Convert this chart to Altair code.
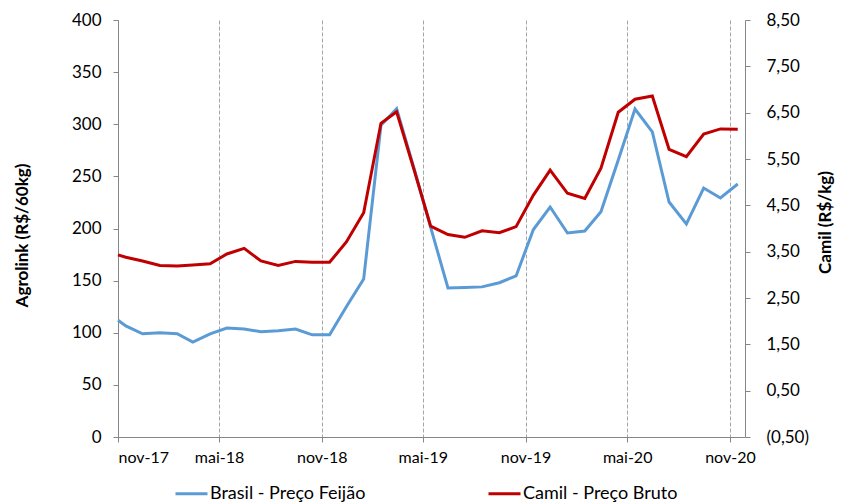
import altair as alt
import pandas as pd

dates = ["2017-11-01"] + [f"{y}-{m:02d}-15" for y, m in
         [(2017, 11), (2017, 12)] + [(2018, m) for m in range(1, 13)] +
         [(2019, m) for m in range(1, 13)] + [(2020, m) for m in range(1, 12)]]

brasil = [112, 106.5, 99, 100, 99, 91, 99, 104.5, 103.6, 101, 102, 103.6, 98, 98,
          125, 151.5, 299, 315, 258, 201, 143, 143.5, 144, 148, 154.5, 199, 220.6,
          195.7, 197.6, 216, 265.7, 314.6, 292.6, 225.4, 204.3, 238.8, 229.3, 242.7]

camil = [3.43, 3.38, 3.30, 3.20, 3.19, 3.21, 3.24, 3.45, 3.57, 3.30, 3.20, 3.29, 3.27,
         3.27, 3.71, 4.34, 6.27, 6.52, 5.28, 4.05, 3.87, 3.81, 3.95, 3.91, 4.04, 4.72,
         5.26, 4.76, 4.65, 5.30, 6.51, 6.79, 6.86, 5.71, 5.55, 6.04, 6.15, 6.14]

series_names = ["Brasil - Preço Feijão", "Camil - Preço Bruto"]
series_colors = ["#5B9BD5", "#C00000"]

left_ticks = [0, 50, 100, 150, 200, 250, 300, 350, 400]
right_ticks = [-0.5, 0.5, 1.5, 2.5, 3.5, 4.5, 5.5, 6.5, 7.5, 8.5]
x_ticks = [(2017, 11), (2018, 5), (2018, 11), (2019, 5), (2019, 11), (2020, 5), (2020, 11)]

df = pd.DataFrame({"date": dates, "brasil": brasil, "camil": camil})

FONT = "Lato"
AXIS_GREY = "#868686"

x_enc = alt.X(
    "date:T",
    scale=alt.Scale(type="utc",
                    domain=[alt.DateTime(year=2017, month=11, date=1, utc=True),
                            alt.DateTime(year=2020, month=11, date=28, utc=True)]),
    axis=alt.Axis(
        title=None,
        values=[alt.DateTime(year=y, month=m, date=1, utc=True) for y, m in x_ticks],
        labelExpr="(utcFormat(datum.value, '%m') == '11' ? 'nov' : 'mai') + '-' + utcFormat(datum.value, '%y')",
        grid=True, gridDash=[4, 2], gridColor="#A6A6A6", gridWidth=1,
        domainColor=AXIS_GREY, tickColor=AXIS_GREY, tickSize=5,
        labelFontSize=16, labelPadding=7, labelColor="#000", labelFont=FONT,
    ),
)

color_enc = alt.Color("serie:N", scale=alt.Scale(domain=series_names, range=series_colors),
                      legend=alt.Legend(title=None))

left = alt.Chart(df).transform_calculate(serie=f"'{series_names[0]}'").mark_line(strokeWidth=3).encode(
    x=x_enc,
    y=alt.Y("brasil:Q",
            scale=alt.Scale(domain=[0, 400], nice=False, zero=False),
            axis=alt.Axis(
                title="Agrolink (R$/60kg)", values=left_ticks, grid=False,
                domainColor=AXIS_GREY, tickColor=AXIS_GREY, tickSize=5,
                labelFontSize=17, labelPadding=12, labelColor="#000", labelFont=FONT,
                titleFont=FONT, titleFontSize=17, titleFontWeight="bold", titleColor="#000",
                titleX=-96, titleY=215, titleAngle=-90, titleAlign="center",
                titleBaseline="middle",
            )),
    color=color_enc,
)

right = alt.Chart(df).transform_calculate(serie=f"'{series_names[1]}'").mark_line(strokeWidth=3).encode(
    x=x_enc,
    y=alt.Y("camil:Q",
            scale=alt.Scale(domain=[-0.5, 8.5], nice=False, zero=False),
            axis=alt.Axis(
                title="Camil (R$/kg)", orient="right", values=right_ticks, grid=False,
                labelExpr="datum.value < 0 ? '(' + replace(format(-datum.value, '.2f'), '.', ',') + ')' : replace(format(datum.value, '.2f'), '.', ',')",
                domainColor=AXIS_GREY, tickColor=AXIS_GREY, tickSize=5,
                labelFontSize=17, labelPadding=16, labelColor="#000", labelFont=FONT,
                titleFont=FONT, titleFontSize=17, titleFontWeight="bold", titleColor="#000",
                titleX=80, titleY=202, titleAngle=-90, titleAlign="center",
                titleBaseline="middle",
            )),
    color=color_enc,
)

chart = alt.layer(left, right).resolve_scale(y="independent").properties(
    width=627, height=417,
    autosize=alt.AutoSizeParams(type="none"),
    padding={"left": 110, "top": 12, "right": 91, "bottom": 67},
).configure_view(stroke=None).configure_legend(
    orient="none", legendX=56, legendY=456, direction="horizontal", columns=2,
    symbolType="stroke", symbolSize=1024, symbolStrokeWidth=3, labelOffset=1,
    labelFontSize=18, labelFont=FONT, labelColor="#000", columnPadding=116,
    labelLimit=300,
)

chart.save("out.html", embed_options={"renderer": "svg", "actions": False})
